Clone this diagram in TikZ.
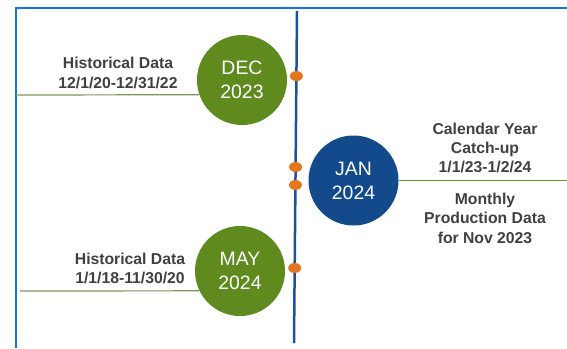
\documentclass[tikz,border=0pt]{standalone}
\usepackage{fontspec}
\setmainfont{Liberation Sans}
\usetikzlibrary{calc,shapes.geometric}
\definecolor{framebl}{RGB}{20,120,210}
\definecolor{axisbl}{RGB}{30,80,160}
\definecolor{circgreen}{RGB}{94,138,30}
\definecolor{circblue}{RGB}{18,74,140}
\definecolor{dotor}{RGB}{228,118,30}
\definecolor{txtgray}{RGB}{64,64,64}
\definecolor{lgreen}{RGB}{120,150,90}
\definecolor{rgreen}{RGB}{100,150,50}
\begin{document}
\begin{tikzpicture}[x=1bp,y=-1bp,
  month/.style={circle,minimum size=90bp,inner sep=0pt,text=white,align=center,
    font=\fontsize{19.5}{24}\selectfont},
  label/.style={text=txtgray,align=center,inner sep=0pt,
    font=\fontsize{15.8}{19.5}\selectfont\bfseries},
  tick/.style={ellipse,fill=dotor,minimum width=13bp,minimum height=10bp,inner sep=0pt},
  leader/.style={line width=1.2bp}]
\useasboundingbox (0,0) rectangle (567,348);
% frame
\draw[framebl,line width=2bp] (16,348) -- (16,8) -- (567,8);
% timeline axis
\coordinate (top) at (297,11);
\coordinate (bot) at (294,343);
\draw[axisbl,line width=2.5bp] (top) -- (bot);
% ticks
\node[tick] (t1) at ($(top)!0.196!(bot)$) {};
\node[tick] (t2) at ($(top)!0.470!(bot)$) {};
\node[tick] (t3) at ($(top)!0.524!(bot)$) {};
\node[tick] (t4) at ($(top)!0.774!(bot)$) {};
% circles
\node[month,fill=circgreen] (dec) at (242,80) {DEC\\2023};
\node[month,fill=circblue] (jan) at (353.5,180.5) {JAN\\2024};
\node[month,fill=circgreen] (may) at (240,271) {MAY\\2024};
% leaders
\coordinate (decend) at (16,95);
\coordinate (mayend) at (20,291);
\coordinate (janend) at (567,180.5);
\draw[leader,lgreen] (decend) -- (dec.199.5);
\draw[leader,lgreen] (mayend) -- (may.206.4);
\draw[leader,rgreen] (jan.east) -- (janend);
% labels
\node[label] (ldec) at (118,73) {Historical Data\\12/1/20-12/31/22};
\node[label] (lmay) at (130,268.5) {Historical Data\\1/1/18-11/30/20};
\node[label] (ljan1) at (485,148) {Calendar Year\\Catch-up\\1/1/23-1/2/24};
\node[label] (ljan2) at (485,218) {Monthly\\Production Data\\for Nov 2023};
\end{tikzpicture}
\end{document}
